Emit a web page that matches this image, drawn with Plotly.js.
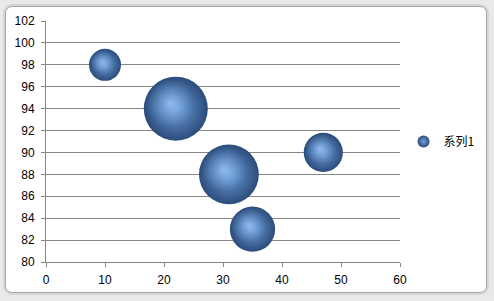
<!DOCTYPE html>
<html>
<head>
<meta charset="utf-8">
<script src="https://cdn.plot.ly/plotly-3.0.1.min.js"></script>
<style>
  html, body { margin: 0; padding: 0; background: #e9e9e9; }
  #frame { position: absolute; left: 5px; top: 6px; width: 480px; height: 285px;
           background: #ffffff; border: 1px solid #a6a6a6; border-radius: 7px;
           box-shadow: 0 0 0 2px #d6d6d6; }
  #chart { position: absolute; left: 0; top: 0; width: 494px; height: 301px; }
</style>
</head>
<body>
<div id="frame"></div>
<div id="chart"></div>
<script>
// Data
const seriesName = "系列1";
const xValues = [10, 22, 31, 35, 47];
const yValues = [98, 94, 88, 83, 90];
const bubbleSizes = [10, 40, 35, 20, 15];

const maxDiameter = 64;
const sizeref = 2 * Math.max(...bubbleSizes) / (maxDiameter * maxDiameter);
// diameters in px, used for the highlight overlay styling
const diam = bubbleSizes.map(s => 2 * Math.sqrt(s / 2 / sizeref));

// radial gradient: marker.color = edge colour, gradient.color = centre colour
const main = {
  type: 'scatter', mode: 'markers', name: seriesName,
  x: xValues, y: yValues,
  marker: {
    size: bubbleSizes, sizemode: 'area', sizeref: sizeref,
    opacity: 1,
    color: '#2b4c7b',
    gradient: { type: 'radial', color: '#6e9ed9' },
    line: { width: 0 }
  },
  hoverinfo: 'x+y'
};

const highlight = {
  type: 'scatter', mode: 'markers', showlegend: false, hoverinfo: 'skip',
  x: xValues, y: yValues,
  marker: {
    size: diam.map(d => d * 0.75),
    opacity: 1,
    color: 'rgba(110,160,220,0)',
    gradient: { type: 'radial', color: 'rgba(160,202,250,0.75)' },
    angle: 135,
    standoff: diam.map(d => d * 0.12),
    line: { width: 0 }
  }
};

const axisCommon = {
  showline: true, linecolor: '#868686', linewidth: 1,
  ticks: 'outside', ticklen: 4, tickcolor: '#868686',
  tickfont: { family: 'Liberation Sans, Arial, sans-serif', size: 12, color: '#000000' },
  zeroline: false, fixedrange: true
};

const layout = {
  width: 494, height: 301,
  margin: { l: 46, r: 94, t: 21, b: 39 },
  paper_bgcolor: 'rgba(0,0,0,0)', plot_bgcolor: 'rgba(0,0,0,0)',
  xaxis: Object.assign({}, axisCommon, {
    range: [0, 60], dtick: 10, tick0: 0, showgrid: false, ticklabelstandoff: 3
  }),
  yaxis: Object.assign({}, axisCommon, {
    range: [80, 102], dtick: 2, tick0: 80,
    showgrid: true, gridcolor: '#868686', gridwidth: 1, ticklabelstandoff: 4
  }),
  showlegend: true,
  legend: {
    x: 1.01, y: 0.5, xanchor: 'left', yanchor: 'middle',
    font: { family: 'Noto Sans CJK SC, sans-serif', size: 12, color: '#000000' },
    bgcolor: 'rgba(0,0,0,0)', itemsizing: 'constant', itemwidth: 30
  }
};

Plotly.newPlot('chart', [main, highlight], layout, { displayModeBar: false, staticPlot: true });
</script>
</body>
</html>
